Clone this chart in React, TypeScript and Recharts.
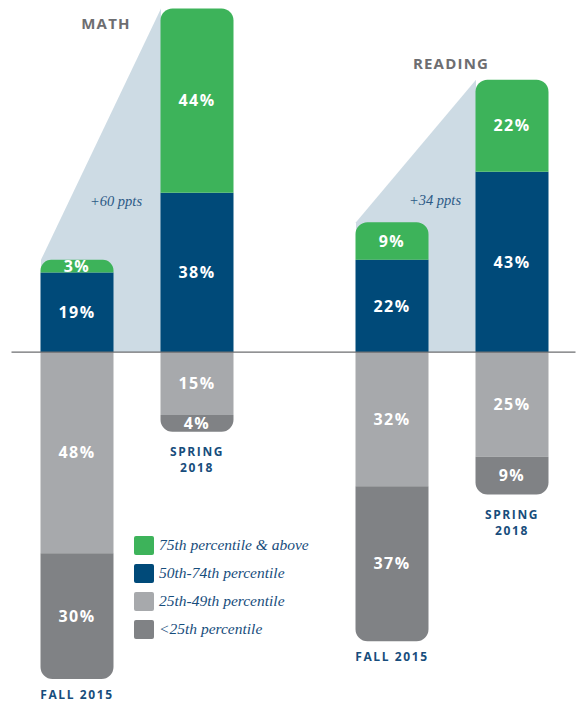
import { ComposedChart, Bar, Area, XAxis, YAxis, ReferenceLine, LabelList, Legend } from 'recharts';

// values (percent of students)
const subjects = ['MATH', 'READING'];
const periods = ['FALL 2015', 'SPRING 2018', 'FALL 2015', 'SPRING 2018'];
const above75 = [3, 44, 9, 22];
const p50to74 = [19, 38, 22, 43];
const p25to49 = [48, 15, 32, 25];
const below25 = [30, 4, 37, 9];
const gains = ['+60 ppts', '+34 ppts'];
const seriesNames = ['75th percentile & above', '50th-74th percentile', '25th-49th percentile', '<25th percentile'];

const GREEN = '#3db35a';
const NAVY = '#004a79';
const LIGHT = '#a7a9ac';
const DARK = '#808285';
const SHADE = '#cddbe4';
const TEXT_NAVY = '#174d7c';
const seriesColors = [GREEN, NAVY, LIGHT, DARK];

// layout: x slot for each bar, in bar-step units (one step = 120px)
const slots = [0, 1, 2.625, 3.625];
const STEP = 120;
const BAR = 73;
const HALF = BAR / 2 / STEP;
const X_DOMAIN: [number, number] = [-0.55, 4.15];

const rows = periods.map((p, i) => ({
  pos: slots[i],
  period: p,
  top: above75[i],
  mid: p50to74[i],
  low: -p25to49[i],
  bottom: -below25[i],
}));

// shaded gain wedge from fall bar top to spring bar top, per subject
const shades = subjects.map((_, s) => [0, 1].map(k => {
  const i = s * 2 + k;
  return { pos: slots[i] - HALF, total: above75[i] + p50to74[i] };
}));

const sans = "'Open Sans', 'Noto Sans', sans-serif";
const serif = "'Liberation Serif', 'DejaVu Serif', serif";

function roundedShape(side: 'top' | 'bottom') {
  return (p: any) => {
    const { x, y, width: w, height, fill } = p;
    const h = Math.abs(height);
    if (!h) return null;
    const t = Math.min(y, y + height);
    const b = t + h;
    const r = Math.min(12, h * 0.85, w / 2);
    const d = side === 'top'
      ? `M${x},${b} L${x},${t + r} A${r},${r} 0 0 1 ${x + r},${t} L${x + w - r},${t} A${r},${r} 0 0 1 ${x + w},${t + r} L${x + w},${b} Z`
      : `M${x},${t} L${x + w},${t} L${x + w},${b - r} A${r},${r} 0 0 1 ${x + w - r},${b} L${x + r},${b} A${r},${r} 0 0 1 ${x},${b - r} Z`;
    return <path d={d} fill={fill} />;
  };
}

const valueLabel = (p: any) => {
  const { x, y, width, height } = p.viewBox ?? p;
  return (
    <text
      x={x + width / 2}
      y={y + height / 2}
      dy="0.36em"
      textAnchor="middle"
      fill="#fff"
      fontFamily={sans}
      fontWeight={700}
      fontSize={16}
      letterSpacing={1.5}
    >
      {Math.abs(Number(p.value))}%
    </text>
  );
};

const periodLabel = (p: any) => {
  const { x, y, width, height } = p.viewBox ?? p;
  const bottom = Math.max(y, y + height);
  const s = String(p.value);
  const lines = s.startsWith('SPRING') ? s.split(' ') : [s];
  const cx = x + width / 2;
  return (
    <text
      y={bottom + (lines.length > 1 ? 24 : 20)}
      textAnchor="middle"
      fill={TEXT_NAVY}
      fontFamily={sans}
      fontWeight={700}
      fontSize={12}
      letterSpacing={1.6}
    >
      {lines.map((l, i) => (
        <tspan key={i} x={cx} dy={i ? 16 : 0}>{l}</tspan>
      ))}
    </text>
  );
};

const legendContent = () => (
  <div>
    {seriesNames.map((n, i) => (
      <div key={n} style={{ display: 'flex', alignItems: 'center', height: 28 }}>
        <span style={{ width: 20, height: 19, borderRadius: 2, background: seriesColors[i], marginRight: 5, flex: 'none' }} />
        <span style={{ fontFamily: serif, fontStyle: 'italic', fontSize: 15.5, color: TEXT_NAVY, whiteSpace: 'nowrap' }}>{n}</span>
      </div>
    ))}
  </div>
);

const titlePos = [
  { x: 106, y: 23 },
  { x: 451, y: 63 },
];
const gainPos = [
  { x: 116, y: 201 },
  { x: 435, y: 200 },
];

export default function App() {
  return (
    <div style={{ position: 'absolute', left: 0, top: 0, width: 576, height: 702, background: '#fff' }}>
      <ComposedChart
        width={576}
        height={702}
        data={rows}
        stackOffset="sign"
        margin={{ top: 0, right: 0.5, bottom: 0, left: 11.5 }}
      >
        <XAxis dataKey="pos" type="number" domain={X_DOMAIN} allowDataOverflow hide />
        <XAxis xAxisId="shade" dataKey="pos" type="number" domain={X_DOMAIN} allowDataOverflow hide />
        <YAxis domain={[-83.5, 84]} allowDataOverflow hide />
        {shades.map((d, s) => (
          <Area
            key={s}
            xAxisId="shade"
            data={d}
            dataKey="total"
            type="linear"
            stroke="none"
            fill={SHADE}
            fillOpacity={1}
            legendType="none"
            isAnimationActive={false}
          />
        ))}
        <ReferenceLine y={0} stroke="#6d6e71" strokeWidth={1.2} />
        <Bar dataKey="mid" name={seriesNames[1]} stackId="s" fill={NAVY} barSize={BAR} isAnimationActive={false}>
          <LabelList dataKey="mid" content={valueLabel} />
        </Bar>
        <Bar dataKey="top" name={seriesNames[0]} stackId="s" fill={GREEN} barSize={BAR} shape={roundedShape('top')} isAnimationActive={false}>
          <LabelList dataKey="top" content={valueLabel} />
        </Bar>
        <Bar dataKey="low" name={seriesNames[2]} stackId="s" fill={LIGHT} barSize={BAR} isAnimationActive={false}>
          <LabelList dataKey="low" content={valueLabel} />
        </Bar>
        <Bar dataKey="bottom" name={seriesNames[3]} stackId="s" fill={DARK} barSize={BAR} shape={roundedShape('bottom')} isAnimationActive={false}>
          <LabelList dataKey="bottom" content={valueLabel} />
          <LabelList dataKey="period" content={periodLabel} />
        </Bar>
        <Legend
          layout="vertical"
          align="center"
          verticalAlign="middle"
          wrapperStyle={{ left: 134, top: 531, width: 240 }}
          content={legendContent}
        />
      </ComposedChart>
      {subjects.map((s, i) => (
        <div
          key={s}
          style={{
            position: 'absolute',
            left: titlePos[i].x,
            top: titlePos[i].y,
            transform: 'translate(-50%, -50%)',
            fontFamily: sans,
            fontWeight: 700,
            fontSize: 15,
            letterSpacing: 1.2,
            color: '#6d6e71',
          }}
        >
          {s}
        </div>
      ))}
      {gains.map((g, i) => (
        <div
          key={g}
          style={{
            position: 'absolute',
            left: gainPos[i].x,
            top: gainPos[i].y,
            transform: 'translate(-50%, -50%)',
            fontFamily: serif,
            fontStyle: 'italic',
            fontSize: 14.5,
            color: '#2c5a86',
            whiteSpace: 'nowrap',
          }}
        >
          {g}
        </div>
      ))}
    </div>
  );
}
